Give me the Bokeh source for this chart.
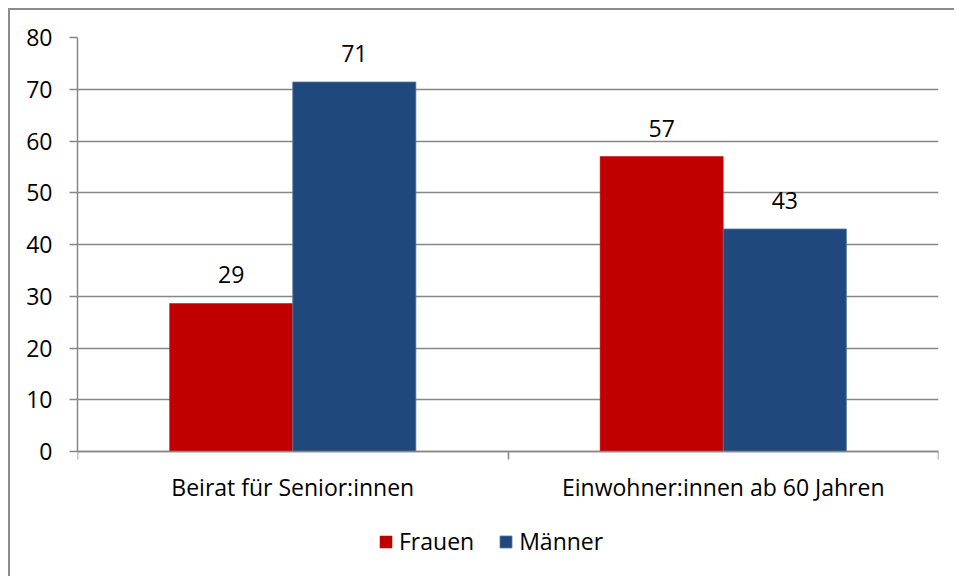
from bokeh.plotting import figure
from bokeh.models import FixedTicker, Legend, LegendItem, Range1d, ColumnDataSource
from bokeh.core.properties import value
from bokeh.embed import file_html
from bokeh.resources import INLINE

categories = ["Beirat für Senior:innen", "Einwohner:innen ab 60 Jahren"]
frauen = [28.6, 57.0]
maenner = [71.4, 43.0]
frauen_labels = ["29", "57"]
maenner_labels = ["71", "43"]
y_ticks = [0, 10, 20, 30, 40, 50, 60, 70, 80]

FONT = "Open Sans"
FS = "23px"
RED = "#C00000"
BLUE = "#1F497D"
GRID = "#878787"

W, H = 946, 568
TOP, LEFT, RIGHT = 27, 67, 18
ZERO_Y = 441          # pixel row (inside figure) of the value 0
px_per_unit = (ZERO_Y - TOP) / 80.0
y_lo = -(H - ZERO_Y) / px_per_unit

p = figure(width=W, height=H, output_backend="svg", toolbar_location=None,
           x_range=Range1d(0, len(categories)), y_range=Range1d(y_lo, 80),
           min_border_left=LEFT, min_border_top=TOP, min_border_right=RIGHT, min_border_bottom=0)
p.styles = {"margin-left": "8px", "margin-top": "8px",
            "border-left": "2px solid #8c8c8c", "border-top": "2px solid #8c8c8c"}
p.outline_line_color = None
p.background_fill_color = "white"
p.border_fill_color = "white"

centers = [i + 0.5 for i in range(len(categories))]
bw = 0.286
src_f = ColumnDataSource(dict(x=[c - bw / 2 for c in centers], top=frauen, lab=frauen_labels))
src_m = ColumnDataSource(dict(x=[c + bw / 2 for c in centers], top=maenner, lab=maenner_labels))

rf = p.vbar(x="x", top="top", width=bw, source=src_f, fill_color=RED, line_color=RED, line_width=0.5)
rm = p.vbar(x="x", top="top", width=bw, source=src_m, fill_color=BLUE, line_color="#5a78a0", line_width=0.8)

for src in (src_f, src_m):
    p.text(x="x", y="top", text="lab", source=src, text_align="center", text_baseline="bottom",
           y_offset=-20, text_font=value(FONT), text_font_size=FS, text_color="black")

# y axis
p.yaxis.ticker = FixedTicker(ticks=y_ticks)
p.yaxis.bounds = (0, 80)
p.yaxis.axis_line_color = GRID
p.yaxis.axis_line_width = 1.5
p.yaxis.major_tick_line_color = GRID
p.yaxis.major_tick_line_width = 1.5
p.yaxis.major_tick_out = 8
p.yaxis.major_tick_in = 0
p.yaxis.minor_tick_line_color = None
p.yaxis.major_label_standoff = 17
p.yaxis.major_label_text_font = FONT
p.yaxis.major_label_text_font_size = FS
p.yaxis.major_label_text_color = "black"

# x axis, drawn at value 0
p.xaxis.fixed_location = 0
p.xaxis.ticker = FixedTicker(ticks=centers, minor_ticks=list(range(len(categories) + 1)))
p.xaxis.major_label_overrides = {c: categories[i] for i, c in enumerate(centers)}
p.xaxis.axis_line_color = GRID
p.xaxis.axis_line_width = 1.5
p.xaxis.major_tick_line_color = None
p.xaxis.minor_tick_line_color = GRID
p.xaxis.minor_tick_line_width = 1.5
p.xaxis.minor_tick_out = 8
p.xaxis.minor_tick_in = 0
p.xaxis.major_label_standoff = 11
p.xaxis.major_label_text_font = FONT
p.xaxis.major_label_text_font_size = FS
p.xaxis.major_label_text_color = "black"

p.xgrid.grid_line_color = None
p.ygrid.ticker = FixedTicker(ticks=y_ticks)
p.ygrid.grid_line_color = GRID
p.ygrid.grid_line_width = 1.5

legend = Legend(items=[LegendItem(label="Frauen", renderers=[rf]),
                       LegendItem(label="Männer", renderers=[rm])],
                orientation="horizontal", location=(301, 21),
                glyph_width=15, glyph_height=15, label_standoff=6, spacing=24,
                label_text_font=FONT, label_text_font_size=FS, label_text_color="black",
                border_line_color=None, background_fill_alpha=0, margin=0, padding=2)
p.add_layout(legend, "center")

open("out.html", "w").write(file_html(p, INLINE))
